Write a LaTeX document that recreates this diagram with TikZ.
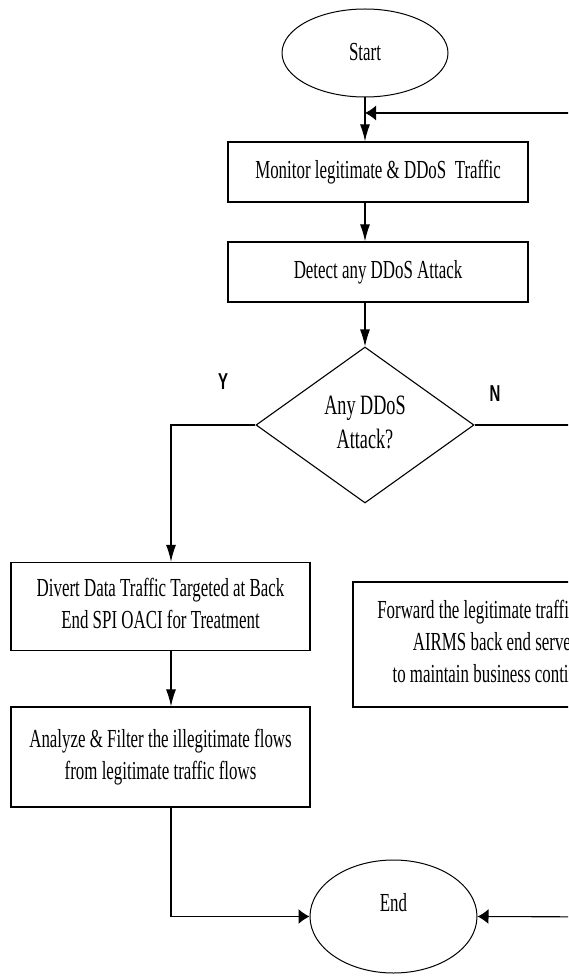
\documentclass[tikz,border=0pt]{standalone}
\usepackage{fontspec}
\usepackage{graphicx}
\setmainfont{Liberation Serif}
\newfontfamily\lblfont{Liberation Sans}
\usetikzlibrary{shapes.geometric,arrows.meta}
\newcommand\sqz[1]{\scalebox{0.65}[1]{#1}}
\newcommand\mlines[1]{\scalebox{0.65}[1]{\begin{tabular}{@{}c@{}}#1\end{tabular}}}
\begin{document}
\begin{tikzpicture}[x=1pt,y=-1pt,
  box/.style={draw, line width=1.3pt, rectangle, inner sep=0pt, font=\fontsize{26}{32}\selectfont},
  oval/.style={draw, ellipse, line width=1pt, inner sep=0pt, font=\fontsize{26}{32}\selectfont},
  decide/.style={draw, diamond, line width=1.1pt, inner sep=0pt, font=\fontsize{28}{34}\selectfont},
  yn/.style={font=\lblfont\bfseries\fontsize{23}{28}\selectfont, inner sep=0pt},
  conn/.style={line width=1.1pt},
  varrow/.style={conn, -{Latex[length=17pt,width=10pt]}},
  harrow/.style={conn, -{Latex[length=11pt,width=15pt]}},
]
\useasboundingbox (0,0) rectangle (568,976);
\clip (0,0) rectangle (568,976);

\node[oval, minimum width=166pt, minimum height=88pt] (start) at (365,53) {\raisebox{2pt}{\sqz{Start}}};
\node[box, minimum width=300pt, minimum height=60pt] (monitor) at (378,172) {\sqz{Monitor legitimate \& DDoS\ \ Traffic}};
\node[box, minimum width=300pt, minimum height=60pt] (detect) at (378,272) {\sqz{Detect any DDoS Attack}};
\node[decide, minimum width=218pt, minimum height=156pt] (dec) at (365,425) {\mlines{Any DDoS\\Attack?}};
\node[box, minimum width=299pt, minimum height=88pt] (divert) at (160.5,606.5) {\mlines{Divert Data Traffic Targeted at Back\\End SPI OACI for Treatment}};
\node[box, minimum width=299pt, minimum height=100pt] (analyze) at (160.5,757) {\mlines{Analyze \& Filter the illegitimate flows\\from legitimate traffic flows}};
\node[box, minimum width=290pt, minimum height=125pt] (fwd) at (498,644.5) {\mlines{Forward the legitimate traffic to the\\AIRMS back end servers\\to maintain business continuity}};
\node[oval, minimum width=167pt, minimum height=113pt] (end) at (393.5,916.5) {\raisebox{5pt}[0pt][0pt]{\sqz{End}}};

\node[yn] (ylab) at (223,382) {\sqz{Y}};
\node[yn] (nlab) at (495,394) {\sqz{N}};

\coordinate (nout) at (620,425);
\coordinate (fbin) at (620,113);
\coordinate (eout) at (620,917);

\draw[varrow] (start.south) -- (start |- monitor.north);
\draw[harrow] (fbin) -- (fbin -| start);
\draw[varrow] (start |- monitor.south) -- (start |- detect.north);
\draw[varrow] (start |- detect.south) -- (dec.north);
\draw[varrow] (dec.west) -| ([xshift=10.5pt]divert.north);
\draw[conn] (dec.east) -- (nout);
\draw[varrow] ([xshift=10.5pt]divert.south) -- ([xshift=10.5pt]analyze.north);
\draw[harrow] ([xshift=10.5pt]analyze.south) |- (end.west);
\draw[harrow] (eout) -- (end.east);
\end{tikzpicture}
\end{document}
